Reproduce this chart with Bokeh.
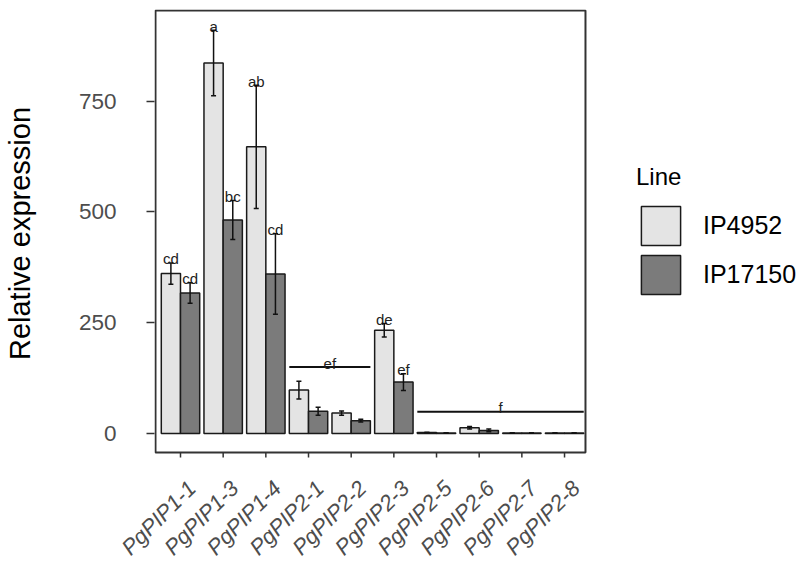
import math
from bokeh.plotting import figure
from bokeh.models import (Range1d, Legend, LegendItem, ColumnDataSource, Whisker,
                          TeeHead, FixedTicker, LinearAxis)
from bokeh.core.properties import value
from bokeh.embed import file_html
from bokeh.resources import INLINE

genes = ["PgPIP1-1", "PgPIP1-3", "PgPIP1-4", "PgPIP2-1", "PgPIP2-2",
         "PgPIP2-3", "PgPIP2-5", "PgPIP2-6", "PgPIP2-7", "PgPIP2-8"]
ip4952 = [361, 836, 647, 98, 46, 233, 2, 13, 1, 1]
ip4952_err = [24, 74, 139, 20, 5, 15, 0, 3, 0, 0]
ip17150 = [317, 482, 360, 50, 29, 116, 1, 7, 1, 1]
ip17150_err = [23, 44, 91, 9, 3, 19, 0, 3, 0, 0]
letters_4952 = ["cd", "a", "ab", "", "", "de", "", "", "", ""]
letters_17150 = ["cd", "bc", "cd", "", "", "ef", "", "", "", ""]
group_letters = ["ef", "f"]
group_first = ["PgPIP2-1", "PgPIP2-5"]
group_last = ["PgPIP2-2", "PgPIP2-8"]
group_level = [150, 49]
y_ticks = [0, 250, 500, 750]

FONT = "Liberation Sans"
DODGE = 0.225
BAR_W = 0.45
PX_PER_Y = 0.4431          # screen px per y unit
GAP = 4 / PX_PER_Y         # 4 px gap above error bars / lines
TICK = 8 / PX_PER_Y        # 8 px tick length
# panel (plot box) limits in data units
PX0, PX1 = 0.414, 10.491
PY0, PY1 = -42.9, 954.6
LABEL_SHIFT = 0.27

pos = [i + 1 for i in range(len(genes))]
gpos = {g: p for g, p in zip(genes, pos)}

def make_src(xoff, vals, errs, letters):
    up = [v + e for v, e in zip(vals, errs)]
    return ColumnDataSource(dict(
        x=[p + xoff for p in pos], top=vals, upper=up,
        lower=[v - e for v, e in zip(vals, errs)],
        laby=[u + GAP for u in up], lab=letters))

src_a = make_src(-DODGE, ip4952, ip4952_err, letters_4952)
src_b = make_src(DODGE, ip17150, ip17150_err, letters_17150)

XR = (0.3907, 15.530)
p = figure(width=800, height=573, output_backend="svg", toolbar_location=None,
           x_range=Range1d(*XR), y_range=Range1d(-54.2, 956.9),
           x_axis_location=None,
           min_border_left=154, min_border_top=9, min_border_right=0,
           min_border_bottom=116)
p.extra_x_ranges = {"lab": Range1d(XR[0] - LABEL_SHIFT, XR[1] - LABEL_SHIFT)}
p.xgrid.visible = False
p.ygrid.visible = False
p.outline_line_color = None
p.background_fill_color = "white"
p.border_fill_color = "white"

# panel border
p.quad(left=[PX0], right=[PX1], bottom=[PY0], top=[PY1], fill_color=None,
       line_color="#333333", line_width=2)
# x tick marks
p.segment(x0=pos, x1=pos, y0=[PY0] * len(pos), y1=[PY0 - TICK] * len(pos),
          line_color="#333333", line_width=1.5)

r_a = p.vbar(x="x", top="top", width=BAR_W, bottom=0, source=src_a,
             fill_color="#E4E4E4", line_color="#1a1a1a", line_width=1.5)
r_b = p.vbar(x="x", top="top", width=BAR_W, bottom=0, source=src_b,
             fill_color="#7B7B7B", line_color="#1a1a1a", line_width=1.5)

for src in (src_a, src_b):
    w = Whisker(source=src, base="x", upper="upper", lower="lower",
                line_color="#111111", line_width=1.5, level="overlay",
                upper_head=TeeHead(size=5, line_color="#111111", line_width=1.5),
                lower_head=TeeHead(size=5, line_color="#111111", line_width=1.5))
    p.add_layout(w)
    p.text(x="x", y="laby", text="lab", source=src, text_align="center",
           text_baseline="alphabetic", text_font=value(FONT),
           text_font_size="15px", text_color="#222222")

# group letters with lines
gx0 = [gpos[g] - 2 * DODGE for g in group_first]
gx1 = [gpos[g] + 2 * DODGE for g in group_last]
p.segment(x0=gx0, x1=gx1, y0=group_level, y1=group_level,
          line_color="#111111", line_width=2)
p.text(x=[(a + b) / 2 for a, b in zip(gx0, gx1)],
       y=[g + GAP for g in group_level], text=group_letters,
       text_align="center", text_baseline="alphabetic",
       text_font=value(FONT), text_font_size="15px", text_color="#222222")

# y axis
p.yaxis.ticker = FixedTicker(ticks=y_ticks)
p.yaxis.axis_label = "Relative expression"
p.yaxis.axis_label_text_font = FONT
p.yaxis.axis_label_text_font_size = "29px"
p.yaxis.axis_label_text_font_style = "normal"
p.yaxis.axis_label_text_color = "black"
p.yaxis.axis_label_standoff = 40
p.yaxis.major_label_text_font = FONT
p.yaxis.major_label_text_font_size = "22.5px"
p.yaxis.major_label_text_color = "#4D4D4D"
p.yaxis.major_label_standoff = 30
p.yaxis.axis_line_color = None
p.yaxis.major_tick_line_color = "#333333"
p.yaxis.major_tick_line_width = 1.5
p.yaxis.major_tick_out = 8
p.yaxis.major_tick_in = 0
p.yaxis.minor_tick_line_color = None

# x axis labels (shifted like ggplot's hjust=1 at 45 degrees)
lab_axis = LinearAxis(x_range_name="lab", ticker=FixedTicker(ticks=pos),
                      major_label_overrides={p_: g for p_, g in zip(pos, genes)},
                      major_label_orientation=math.pi / 4,
                      major_label_text_font=FONT,
                      major_label_text_font_size="22px",
                      major_label_text_font_style="italic",
                      major_label_text_color="#4D4D4D",
                      major_label_standoff=27,
                      axis_line_color=None, major_tick_line_color=None,
                      minor_tick_line_color=None, major_tick_out=0, major_tick_in=0)
p.add_layout(lab_axis, "below")

legend = Legend(items=[LegendItem(label="IP4952", renderers=[r_a]),
                       LegendItem(label="IP17150", renderers=[r_b])],
                location=(482, 158), title="Line",
                title_text_font=FONT, title_text_font_size="24px",
                title_text_color="black", title_text_font_style="normal",
                title_standoff=10,
                label_text_font=FONT, label_text_font_size="25px",
                label_text_color="black", label_standoff=18,
                glyph_width=49, glyph_height=49, spacing=0, padding=0,
                margin=0, border_line_color=None, background_fill_alpha=0)
p.add_layout(legend, "center")

open("out.html", "w").write(file_html(p, INLINE))
